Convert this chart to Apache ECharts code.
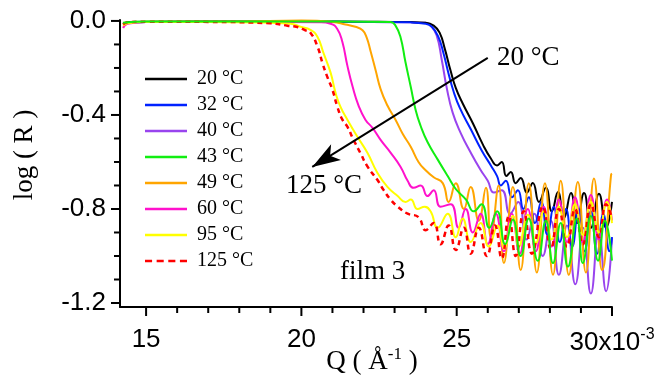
<!DOCTYPE html>
<html>
<head>
<meta charset="utf-8">
<script src="https://cdn.jsdelivr.net/npm/echarts@6/dist/echarts.min.js"></script>
<style>html,body{margin:0;padding:0;background:#fff}#c{width:660px;height:378px}</style>
</head>
<body>
<div id="c"></div>
<script>
// Q in units of 1e-3 1/Å, value = log(R)
const xMajorTicks = [15, 20, 25, 30];
const xMinorTicks = [16, 17, 18, 19, 21, 22, 23, 24, 26, 27, 28, 29];
const yMajorTicks = [0, -0.4, -0.8, -1.2];
const yMinorTicks = [-0.1, -0.2, -0.3, -0.5, -0.6, -0.7, -0.9, -1.0, -1.1];
const seriesNames = ['20 °C', '32 °C', '40 °C', '43 °C', '49 °C', '60 °C', '95 °C', '125 °C'];

const d20 = [[14.26,-0.012],[14.5,-0.004],[16,-0.003],[18,-0.002],[20,-0.002],[22,-0.003],[23.5,-0.005],[24.0,-0.008],[24.26,-0.02],[24.45,-0.05],[24.62,-0.12],[24.8,-0.21],[24.97,-0.285],[25.19,-0.35],[25.52,-0.435],[25.84,-0.525],[26.1,-0.585],[26.3,-0.615],[26.45,-0.6],[26.6,-0.66],[26.74,-0.643],[26.9,-0.69],[27.06,-0.668],[27.26,-0.73],[27.45,-0.689],[27.65,-0.77],[27.87,-0.71],[28.06,-0.81],[28.26,-0.728],[28.45,-0.84],[28.68,-0.732],[28.87,-0.86],[29.1,-0.732],[29.32,-0.88],[29.58,-0.735],[29.81,-0.88],[30.0,-0.77]];
const d32 = [[14.26,-0.01],[15,-0.004],[18,-0.003],[21,-0.003],[23.5,-0.006],[24.0,-0.012],[24.2,-0.025],[24.4,-0.065],[24.57,-0.135],[24.73,-0.22],[24.9,-0.3],[25.1,-0.37],[25.45,-0.46],[25.8,-0.55],[26.1,-0.615],[26.3,-0.66],[26.42,-0.7],[26.58,-0.68],[26.78,-0.75],[26.97,-0.72],[27.15,-0.8],[27.32,-0.75],[27.52,-0.86],[27.72,-0.77],[27.92,-0.91],[28.12,-0.79],[28.32,-0.94],[28.52,-0.8],[28.72,-0.96],[28.92,-0.8],[29.12,-0.98],[29.32,-0.81],[29.52,-0.99],[29.72,-0.82],[29.92,-0.98],[30.0,-0.92]];
const d40 = [[14.26,-0.01],[15,-0.004],[18,-0.003],[21,-0.004],[23.5,-0.006],[24.0,-0.008],[24.16,-0.02],[24.35,-0.06],[24.52,-0.166],[24.68,-0.285],[24.87,-0.39],[25.13,-0.477],[25.45,-0.56],[25.77,-0.634],[26.0,-0.68],[26.2,-0.73],[26.45,-0.72],[26.72,-0.82],[26.98,-0.77],[27.25,-0.93],[27.5,-0.82],[27.77,-1.0],[28.03,-0.85],[28.29,-1.08],[28.55,-0.87],[28.82,-1.12],[29.07,-0.88],[29.32,-1.16],[29.57,-0.89],[29.81,-1.15],[30.0,-0.92]];
const d43 = [[14.26,-0.008],[15,-0.002],[18,-0.002],[21,-0.002],[22.87,-0.004],[23.03,-0.02],[23.19,-0.068],[23.35,-0.175],[23.52,-0.28],[23.68,-0.38],[23.84,-0.447],[24.06,-0.515],[24.39,-0.59],[24.71,-0.66],[24.97,-0.715],[25.3,-0.76],[25.55,-0.81],[25.8,-0.78],[26.05,-0.88],[26.3,-0.81],[26.56,-0.95],[26.81,-0.845],[27.06,-1.0],[27.32,-0.84],[27.61,-1.02],[27.87,-0.85],[28.1,-1.03],[28.35,-0.86],[28.58,-1.045],[28.87,-0.84],[29.06,-1.03],[29.32,-0.83],[29.55,-1.02],[29.77,-0.85],[30.0,-1.02]];
const d49 = [[14.26,-0.012],[15,-0.003],[18,-0.002],[20,0.002],[21.0,-0.004],[21.42,-0.015],[21.74,-0.025],[21.97,-0.04],[22.1,-0.07],[22.23,-0.13],[22.39,-0.21],[22.55,-0.29],[22.77,-0.36],[23.03,-0.42],[23.26,-0.48],[23.52,-0.535],[23.77,-0.6],[24.0,-0.635],[24.26,-0.665],[24.55,-0.69],[24.74,-0.77],[24.97,-0.69],[25.23,-0.8],[25.45,-0.706],[25.71,-0.85],[25.94,-0.71],[26.1,-0.92],[26.35,-0.7],[26.52,-1.03],[26.81,-0.706],[27.06,-1.06],[27.32,-0.69],[27.58,-1.07],[27.84,-0.69],[28.1,-1.08],[28.35,-0.68],[28.61,-1.08],[28.9,-0.685],[29.16,-1.07],[29.42,-0.67],[29.68,-1.06],[29.97,-0.655],[30.0,-0.65]];
const d60 = [[14.26,-0.03],[14.4,-0.012],[15,-0.005],[18,-0.004],[20.61,-0.006],[20.94,-0.012],[21.16,-0.035],[21.32,-0.09],[21.48,-0.19],[21.65,-0.28],[21.84,-0.36],[22.06,-0.42],[22.29,-0.455],[22.55,-0.506],[22.87,-0.56],[23.19,-0.62],[23.42,-0.68],[23.61,-0.71],[23.84,-0.7],[24.06,-0.745],[24.26,-0.72],[24.48,-0.79],[24.81,-0.78],[25.06,-0.88],[25.29,-0.8],[25.52,-0.9],[25.77,-0.82],[26.0,-0.95],[26.26,-0.82],[26.52,-0.98],[26.77,-0.82],[27.03,-0.99],[27.29,-0.8],[27.55,-0.98],[27.8,-0.79],[28.06,-0.96],[28.29,-0.76],[28.55,-0.94],[28.81,-0.75],[29.06,-0.94],[29.32,-0.74],[29.58,-0.93],[29.84,-0.76],[30.0,-0.85]];
const d95 = [[14.26,-0.02],[14.4,-0.01],[15,-0.005],[17,-0.005],[19.0,-0.008],[19.65,-0.012],[19.97,-0.025],[20.29,-0.038],[20.52,-0.068],[20.71,-0.136],[20.94,-0.22],[21.1,-0.306],[21.26,-0.366],[21.48,-0.42],[21.81,-0.494],[22.13,-0.562],[22.45,-0.647],[22.77,-0.706],[23.1,-0.745],[23.35,-0.77],[23.52,-0.76],[23.74,-0.8],[23.97,-0.79],[24.16,-0.81],[24.39,-0.88],[24.71,-0.82],[24.97,-0.92],[25.19,-0.84],[25.45,-0.94],[25.77,-0.86],[26.03,-0.96],[26.32,-0.87],[26.52,-0.97],[26.81,-0.83],[27.0,-0.96],[27.29,-0.825],[27.55,-0.945],[27.8,-0.81],[28.06,-0.93],[28.29,-0.79],[28.55,-0.92],[28.81,-0.78],[29.06,-0.91],[29.32,-0.77],[29.58,-0.9],[29.84,-0.77],[30.0,-0.86]];
const d125 = [[14.26,-0.015],[14.4,-0.006],[15,-0.003],[17,-0.004],[19.0,-0.01],[19.55,-0.02],[19.87,-0.026],[20.13,-0.04],[20.29,-0.05],[20.52,-0.11],[20.68,-0.18],[20.84,-0.24],[21.0,-0.293],[21.16,-0.366],[21.32,-0.42],[21.48,-0.45],[21.68,-0.506],[21.9,-0.562],[22.13,-0.62],[22.45,-0.677],[22.65,-0.72],[22.87,-0.76],[23.1,-0.79],[23.42,-0.82],[23.77,-0.835],[24.0,-0.89],[24.26,-0.86],[24.48,-0.95],[24.74,-0.87],[24.97,-0.975],[25.23,-0.88],[25.45,-0.99],[25.71,-0.88],[25.97,-1.0],[26.23,-0.87],[26.45,-1.01],[26.68,-0.83],[26.9,-1.0],[27.16,-0.81],[27.42,-0.99],[27.77,-0.79],[28.03,-0.97],[28.29,-0.8],[28.55,-0.96],[28.81,-0.8],[29.06,-0.95],[29.32,-0.78],[29.58,-0.92],[29.81,-0.78],[30.0,-0.84]];

const arrowFrom = [26.0, -0.157];
const arrowTo = [20.35, -0.621];

const X_MIN = 14.16, X_MAX = 30, Y_MIN = -1.217, Y_MAX = 0.004;
const colors = ['#000000', '#0022ff', '#9944ee', '#11ee11', '#ffa500', '#ff11cc', '#ffff00', '#ff0000'];
const datasets = [d20, d32, d40, d43, d49, d60, d95, d125];
const drawOrder = [2, 0, 1, 4, 5, 6, 7, 3];

const solidIcon = 'path://M0,0L42,0L42,2.4L0,2.4Z';
const dashIcon = 'path://M0,0h7v2.4h-7z M11.5,0h7v2.4h-7z M23,0h7v2.4h-7z M34.5,0h7v2.4h-7z';

const chart = echarts.init(document.getElementById('c'), null, {renderer: 'canvas'});
const axisColor = '#000';
const series = drawOrder.map(function (i) {
  const s = {
    name: seriesNames[i], type: 'line', data: datasets[i], symbol: 'none', showSymbol: false,
    smooth: 0.5, z: 2, clip: false,
    lineStyle: {color: colors[i], width: i === 7 ? 2.5 : 2, type: i === 7 ? [5, 4] : 'solid'},
    itemStyle: {color: colors[i]}
  };
  if (i === 0) {
    s.markLine = {
      silent: true, animation: false, symbol: ['none', 'arrow'],
      label: {show: false}, lineStyle: {color: '#000', width: 2, type: 'solid'},
      data: [[{coord: arrowFrom, symbol: 'none'}, {coord: arrowTo, symbol: 'arrow', symbolSize: [14, 28]}]]
    };
  }
  return s;
});

const textGraphics = [
  {type: 'text', left: 497, top: 44, style: {text: '20 °C', font: '27px "Liberation Serif"', fill: '#000'}},
  {type: 'text', left: 286, top: 172, style: {text: '125 °C', font: '27px "Liberation Serif"', fill: '#000'}},
  {type: 'text', left: 340, top: 258, style: {text: 'film 3', font: '27px "Liberation Serif"', fill: '#000'}},
  {type: 'text', x: 25, y: 155, rotation: Math.PI / 2, style: {text: 'log ( R )', font: '27px "Liberation Serif"', fill: '#000', align: 'center', verticalAlign: 'middle'}},
  {type: 'text', x: 372, y: 362, style: {
    text: '{a|Q ( Å}{s|-1}{a| )}', align: 'center', verticalAlign: 'middle', fill: '#000',
    rich: {a: {fontFamily: 'Liberation Serif', fontSize: 27, fill: '#000'}, s: {fontFamily: 'Liberation Serif', fontSize: 17, fill: '#000', padding: [0, 0, 14, 0]}}
  }}
];

const option = {
  animation: false,
  backgroundColor: '#fff',
  grid: {left: 120, right: 48, top: 20, bottom: 71},
  legend: {
    orient: 'vertical', left: 140, top: 64, itemWidth: 42, itemHeight: 14, itemGap: 6,
    data: seriesNames.map(function (n, i) { return {name: n, icon: i === 7 ? dashIcon : solidIcon}; }),
    textStyle: {fontFamily: 'Liberation Serif', fontSize: 20, lineHeight: 20, color: '#000', padding: [0, 0, 0, 5]}
  },
  xAxis: {
    type: 'value', min: X_MIN, max: X_MAX, position: 'bottom',
    axisLine: {show: true, onZero: false, lineStyle: {color: axisColor, width: 2}},
    axisTick: {show: false},
    axisLabel: {
      show: true, customValues: xMajorTicks, margin: 20, color: '#000', fontFamily: 'Liberation Sans', fontSize: 26,
      formatter: function (v) { return v === 30 ? '30x10{s|-3}' : String(v); },
      rich: {s: {fontFamily: 'Liberation Sans', fontSize: 16, color: '#000', padding: [0, 0, 16, 0]}}
    },
    splitLine: {show: false}
  },
  yAxis: {
    type: 'value', min: Y_MIN, max: Y_MAX, position: 'left',
    axisLine: {show: true, onZero: false, lineStyle: {color: axisColor, width: 2}},
    axisTick: {show: false},
    axisLabel: {
      show: true, customValues: yMajorTicks, margin: 14, color: '#000', fontFamily: 'Liberation Sans', fontSize: 26,
      padding: [3, 0, 0, 0],
      formatter: function (v) { return v.toFixed(1); }
    },
    splitLine: {show: false}
  },
  graphic: textGraphics,
  series: series
};
chart.setOption(option);

// tick marks, placed through the chart's own axis scales
const yBottom = chart.convertToPixel({yAxisIndex: 0}, Y_MIN);
const xLeft = chart.convertToPixel({xAxisIndex: 0}, X_MIN);
const tickGraphics = [];
function addTicks(values, isX, len) {
  values.forEach(function (v) {
    let shape;
    if (isX) {
      const px = chart.convertToPixel({xAxisIndex: 0}, v);
      shape = {x1: px, y1: yBottom, x2: px, y2: yBottom + len};
    } else {
      const py = chart.convertToPixel({yAxisIndex: 0}, v);
      shape = {x1: xLeft, y1: py, x2: xLeft - len, y2: py};
    }
    tickGraphics.push({type: 'line', silent: true, z: 10, shape: shape, style: {stroke: axisColor, lineWidth: 2}});
  });
}
addTicks(xMajorTicks, true, 9);
addTicks(xMinorTicks, true, 6);
addTicks(yMajorTicks, false, 9);
addTicks(yMinorTicks, false, 6);
chart.setOption({graphic: textGraphics.concat(tickGraphics)});
</script>
</body>
</html>
